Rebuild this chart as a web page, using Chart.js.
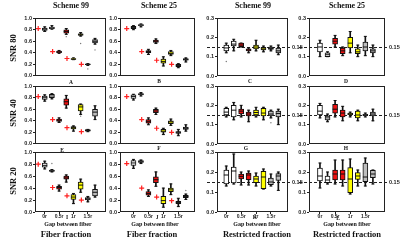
<!DOCTYPE html>
<html>
<head>
<meta charset="utf-8">
<script src="https://cdn.jsdelivr.net/npm/chart.js@4.4.0/dist/chart.umd.min.js"></script>
<style>
body{margin:0;width:400px;height:242px;background:#fff;position:relative;overflow:hidden;font-family:"Liberation Serif",serif;color:#111}
canvas{position:absolute}
.t{position:absolute;font-weight:bold;white-space:nowrap;line-height:1;transform:translate(-50%,-50%)}
.rot{transform:translate(-50%,-50%) rotate(-90deg)}
</style>
</head>
<body>
<script>
const gaps = ['0r', '0.5r', '1r', '1.5r'];
const schemes = ['Scheme 99', 'Scheme 25', 'Scheme 99', 'Scheme 25'];
const snrs = ['SNR 80', 'SNR 40', 'SNR 20'];
const fractions = ['Fiber fraction', 'Fiber fraction', 'Restricted fraction', 'Restricted fraction'];
const letters = ['A','B','C','D','E','F','G','H','I','J','K','L'];

// one box = [min, q1, median, q3, max]
const boxesA = [[0.77,0.79,0.81,0.83,0.85],[0.81,0.82,0.83,0.845,0.87],[0.39,0.40,0.415,0.43,0.44],[0.72,0.74,0.77,0.80,0.82],[0.28,0.285,0.29,0.30,0.31],[0.69,0.70,0.72,0.73,0.75],[0.18,0.195,0.20,0.205,0.21],[0.55,0.57,0.60,0.63,0.65]];
const boxesB = [[0.80,0.82,0.84,0.86,0.87],[0.85,0.87,0.88,0.89,0.90],[0.37,0.40,0.42,0.44,0.46],[0.56,0.58,0.60,0.62,0.64],[0.17,0.22,0.25,0.29,0.33],[0.35,0.37,0.39,0.42,0.44],[0.14,0.16,0.18,0.20,0.21],[0.24,0.27,0.28,0.30,0.31]];
const boxesC = [[0.12,0.13,0.145,0.16,0.17],[0.13,0.155,0.165,0.18,0.19],[0.15,0.152,0.16,0.17,0.17],[0.12,0.13,0.135,0.14,0.145],[0.13,0.14,0.15,0.16,0.185],[0.125,0.135,0.14,0.148,0.155],[0.13,0.138,0.143,0.15,0.155],[0.11,0.12,0.13,0.145,0.16]];
const boxesD = [[0.10,0.125,0.15,0.17,0.185],[0.10,0.10,0.11,0.12,0.125],[0.15,0.165,0.18,0.195,0.21],[0.105,0.115,0.13,0.145,0.15],[0.12,0.145,0.17,0.20,0.23],[0.10,0.115,0.125,0.14,0.16],[0.105,0.13,0.15,0.175,0.205],[0.10,0.12,0.13,0.14,0.16]];
const boxesE = [[0.74,0.77,0.80,0.83,0.85],[0.78,0.80,0.83,0.86,0.87],[0.37,0.39,0.41,0.43,0.45],[0.62,0.67,0.73,0.78,0.84],[0.22,0.26,0.28,0.30,0.31],[0.51,0.57,0.64,0.68,0.69],[0.21,0.22,0.23,0.245,0.25],[0.42,0.48,0.55,0.60,0.66]];
const boxesF = [[0.76,0.79,0.82,0.85,0.86],[0.83,0.85,0.86,0.87,0.89],[0.33,0.36,0.39,0.42,0.45],[0.51,0.54,0.57,0.60,0.62],[0.16,0.20,0.22,0.25,0.27],[0.32,0.35,0.38,0.40,0.43],[0.14,0.18,0.20,0.21,0.25],[0.22,0.25,0.27,0.29,0.33]];
const boxesG = [[0.14,0.15,0.165,0.185,0.19],[0.125,0.14,0.175,0.20,0.215],[0.14,0.155,0.17,0.18,0.20],[0.115,0.145,0.155,0.165,0.175],[0.14,0.15,0.163,0.175,0.19],[0.125,0.145,0.16,0.185,0.19],[0.135,0.145,0.155,0.17,0.175],[0.10,0.14,0.158,0.17,0.18]];
const boxesH = [[0.135,0.15,0.17,0.20,0.21],[0.115,0.125,0.135,0.145,0.155],[0.14,0.16,0.18,0.205,0.225],[0.12,0.14,0.16,0.175,0.195],[0.14,0.15,0.155,0.16,0.165],[0.12,0.135,0.15,0.17,0.175],[0.14,0.147,0.15,0.153,0.16],[0.12,0.145,0.155,0.165,0.18]];
const boxesI = [[0.72,0.75,0.78,0.82,0.85],[0.67,0.68,0.69,0.70,0.71],[0.35,0.38,0.41,0.43,0.45],[0.50,0.55,0.57,0.60,0.62],[0.14,0.21,0.25,0.29,0.31],[0.33,0.38,0.45,0.50,0.55],[0.17,0.20,0.22,0.24,0.26],[0.25,0.27,0.33,0.38,0.45]];
const boxesJ = [[0.73,0.78,0.82,0.86,0.88],[0.81,0.83,0.84,0.86,0.87],[0.26,0.28,0.31,0.34,0.37],[0.43,0.49,0.54,0.59,0.67],[0.08,0.14,0.19,0.26,0.40],[0.29,0.34,0.37,0.40,0.47],[0.09,0.14,0.16,0.18,0.23],[0.21,0.24,0.26,0.28,0.30]];
const boxesK = [[0.13,0.14,0.185,0.21,0.23],[0.14,0.145,0.205,0.225,0.29],[0.135,0.165,0.178,0.19,0.20],[0.135,0.162,0.185,0.195,0.205],[0.13,0.147,0.165,0.18,0.195],[0.115,0.117,0.175,0.203,0.215],[0.13,0.137,0.15,0.17,0.19],[0.108,0.158,0.18,0.192,0.20]];
const boxesL = [[0.12,0.155,0.18,0.22,0.245],[0.14,0.147,0.16,0.18,0.20],[0.14,0.16,0.19,0.21,0.26],[0.13,0.16,0.19,0.21,0.26],[0.09,0.097,0.165,0.222,0.265],[0.13,0.163,0.18,0.197,0.21],[0.13,0.152,0.175,0.245,0.27],[0.14,0.172,0.19,0.208,0.21]];

// simulated ground truth (red crosses), one per gap
const truthA = [0.82, 0.42, 0.30, 0.20];
const truthB = [0.82, 0.42, 0.27, 0.20];
const truthE = [0.82, 0.42, 0.28, 0.21];
const truthF = [0.82, 0.42, 0.27, 0.20];
const truthI = [0.80, 0.41, 0.27, 0.20];
const truthJ = [0.81, 0.40, 0.25, 0.19];

// outliers as [box index, value]
const outA = [[3,0.68],[5,0.56],[6,0.12],[7,0.45]];
const outC = [[0,0.075]];
const outE = [[5,0.48]];
const outG = [[6,0.11]];
const outI = [[1,0.81]];
const outJ = [[7,0.36]];

const restrictedRef = 0.15;

const boxColors = ['#ffffff','#ffffff','#ee1111','#ee1111','#ffff00','#ffff00','#bdbdbd','#bdbdbd'];
const colFrame = [
  {left: 35, right: 107, xmin: -1.35, xmax: 8.5},
  {left: 120, right: 196, xmin: -1.8, xmax: 8.2},
  {left: 217, right: 288, xmin: -1.25, xmax: 8.3},
  {left: 309, right: 385, xmin: -1.45, xmax: 8.6}
];
const rowFrame = [{top: 18, bottom: 78}, {top: 86, bottom: 146}, {top: 152, bottom: 212}];

const panels = [
  [boxesA, truthA, outA], [boxesB, truthB, []], [boxesC, null, outC], [boxesD, null, []],
  [boxesE, truthE, outE], [boxesF, truthF, []], [boxesG, null, outG], [boxesH, null, []],
  [boxesI, truthI, outI], [boxesJ, truthJ, outJ], [boxesK, null, []], [boxesL, null, []]
];

const framePlugin = {
  id: 'frame',
  beforeDatasetsDraw(chart, args, opts) {
    if (opts.ref == null) return;
    const {ctx, chartArea: a} = chart;
    const y = Math.round(chart.scales.y.getPixelForValue(opts.ref)) + 0.5;
    ctx.save();
    ctx.strokeStyle = '#222';
    ctx.lineWidth = 1;
    ctx.setLineDash([3, 2]);
    ctx.beginPath();
    ctx.moveTo(a.left - 10, y);
    ctx.lineTo(a.right + 3, y);
    ctx.stroke();
    ctx.restore();
  },
  afterDraw(chart, args, opts) {
    const {ctx, chartArea: a} = chart;
    ctx.save();
    ctx.strokeStyle = '#222';
    ctx.lineWidth = 1;
    ctx.strokeRect(Math.round(a.left) + 0.5, Math.round(a.top) + 0.5, Math.round(a.right - a.left) - 1, Math.round(a.bottom - a.top) - 1);
    if (opts.ref != null) {
      const y = chart.scales.y.getPixelForValue(opts.ref);
      ctx.fillStyle = '#222';
      ctx.font = 'bold 5.5px "Liberation Sans"';
      ctx.textBaseline = 'middle';
      ctx.fillText(opts.ref.toFixed(2), a.right + 4, y);
    }
    ctx.restore();
  }
};

function addText(txt, x, y, size, cls) {
  const d = document.createElement('div');
  d.className = 't' + (cls ? ' ' + cls : '');
  d.style.left = x + 'px';
  d.style.top = y + 'px';
  d.style.fontSize = size + 'px';
  d.textContent = txt;
  document.body.appendChild(d);
}

panels.forEach(([boxes, truth, out], n) => {
  const col = n % 4, row = Math.floor(n / 4);
  const cf = colFrame[col], rf = rowFrame[row];
  const restricted = col >= 2;
  const bottomRow = row === 2;
  const padL = 22, padT = 5, padR = restricted ? 22 : 4, padB = bottomRow ? 9 : 3;
  const cv = document.createElement('canvas');
  cv.width = padL + cf.right - cf.left + padR;
  cv.height = padT + rf.bottom - rf.top + padB;
  cv.style.left = (cf.left - padL) + 'px';
  cv.style.top = (rf.top - padT) + 'px';
  document.body.appendChild(cv);

  const datasets = [
    {type: 'bar', data: boxes.map((b, i) => ({x: i, y: [b[0], b[4]]})), backgroundColor: '#111',
     barThickness: 1, grouped: false, order: 6},
    {type: 'scatter', data: boxes.flatMap((b, i) => [{x: i, y: b[0]}, {x: i, y: b[4]}]),
     pointStyle: 'line', pointRadius: 1.5, borderColor: '#111', pointBorderColor: '#111', pointBorderWidth: 1, order: 5},
    {type: 'bar', data: boxes.map((b, i) => ({x: i, y: [b[1], b[3]]})), backgroundColor: boxColors,
     borderColor: '#111', borderWidth: 1, borderSkipped: false, barThickness: 5, grouped: false, order: 4},
    {type: 'scatter', data: boxes.map((b, i) => ({x: i, y: b[2]})),
     pointStyle: 'line', pointRadius: 2.5, borderColor: '#111', pointBorderColor: '#111', pointBorderWidth: 1, order: 3},
    {type: 'scatter', data: out.map(o => ({x: o[0], y: o[1]})), pointRadius: 0.7,
     backgroundColor: '#777', pointBackgroundColor: '#777', pointBorderWidth: 0, order: 2}
  ];
  if (truth) {
    datasets.push({type: 'scatter', data: truth.map((v, k) => ({x: 2 * k - 0.9, y: v})),
      pointStyle: 'cross', pointRadius: 2.5, borderColor: '#ff2020', pointBorderColor: '#ff2020', pointBorderWidth: 1.2, order: 1});
  }

  new Chart(cv, {
    type: 'bar',
    data: {datasets},
    options: {
      responsive: false,
      animation: false,
      events: [],
      layout: {padding: {left: 0, top: padT, right: padR, bottom: 0}},
      plugins: {legend: {display: false}, tooltip: {enabled: false}, frame: {ref: restricted ? restrictedRef : null}},
      scales: {
        x: {
          type: 'linear', min: cf.xmin, max: cf.xmax, offset: false,
          afterFit: s => { s.height = padB; },
          afterBuildTicks: s => { s.ticks = [0, 2, 4, 6].map(v => ({value: v})); },
          ticks: {display: bottomRow, autoSkip: false, maxRotation: 0, padding: 0,
                  font: {size: 5, weight: 'bold', family: 'Liberation Sans'}, color: '#222',
                  callback: v => gaps[v / 2]},
          grid: {display: bottomRow, drawOnChartArea: false, tickLength: 2, color: '#222', offset: false},
          border: {display: false}
        },
        y: {
          min: 0, max: restricted ? 0.3 : 1,
          afterFit: s => { s.width = padL; },
          ticks: {stepSize: restricted ? 0.1 : 0.2, padding: 1,
                  font: {size: 5.5, weight: 'bold', family: 'Liberation Sans'}, color: '#222',
                  callback: v => v.toFixed(1)},
          grid: {drawOnChartArea: false, tickLength: 2, color: '#222'},
          border: {display: false}
        }
      }
    },
    plugins: [framePlugin]
  });
});

// titles and labels
const colCenter = [71, 159, 253, 347];
schemes.forEach((s, c) => addText(s, colCenter[c], 6, 8));
snrs.forEach((s, r) => addText(s, 13, [48, 113, 181][r], 8.5, 'rot'));
const letterPos = [[71,83],[159,82],[250,82],[346,82],[62,151],[159,149],[246,149],[346,149],[67,218],[157,218],[255,218],[338,219]];
letters.forEach((l, i) => addText(l, letterPos[i][0], letterPos[i][1], 5.5));
[68, 155, 257, 347].forEach(x => addText('Gap between fiber', x, 224, 6));
fractions.forEach((f, c) => addText(f, [66, 152, 257, 347][c], 234, 8.5));
</script>
</body>
</html>
